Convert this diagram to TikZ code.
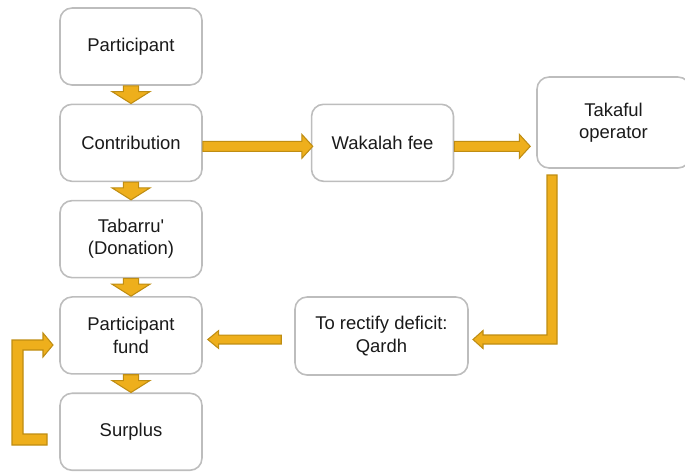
\documentclass[tikz,border=0pt]{standalone}
\usepackage{fontspec}
\setmainfont{Liberation Sans}
\usepackage{tikz}
\usetikzlibrary{positioning,calc}

\definecolor{boxline}{HTML}{BDBDBD}
\definecolor{flowfill}{HTML}{EEAF1C}
\definecolor{flowline}{HTML}{BF8D12}
\definecolor{textcol}{HTML}{1A1A1A}

\tikzset{
	stagebox/.style={draw=boxline, line width=0.9pt, rounded corners=0.24cm, fill=white,
		minimum width=2.84cm, minimum height=1.54cm, align=center, text=textcol,
		inner sep=0pt, font=\fontsize{10.5}{12.6}\selectfont},
	flow/.style={draw=flowline, fill=flowfill, line width=0.6pt, line join=miter}
}

% fat arrow: start, tip, half shaft, half head, head length
\newcommand{\blockarrow}[5]{%
	\draw[flow] let \p1=(#1), \p2=(#2), \n1={atan2(\y2-\y1,\x2-\x1)}, \n2={veclen(\x2-\x1,\y2-\y1)} in
	(\p1) -- ++(\n1+90:#3) -- ++(\n1:\n2-#5) -- ++(\n1+90:#4-#3) -- (\p2)
	-- ($(\p1)+(\n1:\n2-#5)+(\n1-90:#4)$) -- ++(\n1+90:#4-#3) -- ($(\p1)+(\n1-90:#3)$) -- cycle;
}

\begin{document}
\begin{tikzpicture}[x=0.02cm, y=-0.02cm, node distance=0.355cm]
	\useasboundingbox (0,0) rectangle (685,471);
	
	% Left column of stages
	\node[stagebox] (part) at (131,46.5) {Participant};
	\node[stagebox, below=of part] (contrib) {Contribution};
	\node[stagebox, below=of contrib] (tabarru) {Tabarru\textquotesingle\\(Donation)};
	\node[stagebox, below=of tabarru] (fund) {Participant\\fund};
	\node[stagebox, below=of fund] (surplus) {Surplus};
	
	% Operator side
	\node[stagebox, right=2.16cm of contrib] (wakalah) {Wakalah fee};
	\node[stagebox, minimum width=3.06cm, minimum height=1.82cm] (takaful) at (613.5,122.5) {Takaful\\operator};
	\node[stagebox, minimum width=3.46cm, minimum height=1.56cm] (qardh) at (381.5,336) {To rectify deficit:\\Qardh};
	
	% Arrows down the column
	\foreach \a/\b in {part/contrib, contrib/tabarru, tabarru/fund, fund/surplus}
	\blockarrow{\a.south}{\b.north}{4.3pt}{10.8pt}{6.8pt};
	
	% Arrows to the operator
	\blockarrow{$(contrib.east)+(0,-0.07cm)$}{$(wakalah.west)+(0.04cm,-0.07cm)$}{2.83pt}{6.8pt}{6.2pt}
	\blockarrow{$(wakalah.east)+(0,-0.07cm)$}{$(wakalah.east -| takaful.west)+(-0.12cm,-0.07cm)$}{2.83pt}{6.8pt}{6.2pt}
	
	% Qardh back to the fund
	\blockarrow{$(qardh.west)+(-0.26cm,-0.07cm)$}{$(fund.east |- qardh.west)+(0.1cm,-0.07cm)$}{2.55pt}{5.1pt}{6.2pt}
	
	% Bent arrow from the operator down to Qardh
	\draw[flow] (547,175) -- (557,175) -- (557,344) -- (483,344) -- (483,348.5) -- (473,339.5)
	-- (483,330.5) -- (483,335) -- (547,335) -- cycle;
	
	% Surplus loop back to the fund
	\draw[flow] (47,434) -- (47,445) -- (12,445) -- (12,340) -- (43,340) -- (43,333) -- (53,345)
	-- (43,357) -- (43,350) -- (23,350) -- (23,434) -- cycle;
\end{tikzpicture}
\end{document}
